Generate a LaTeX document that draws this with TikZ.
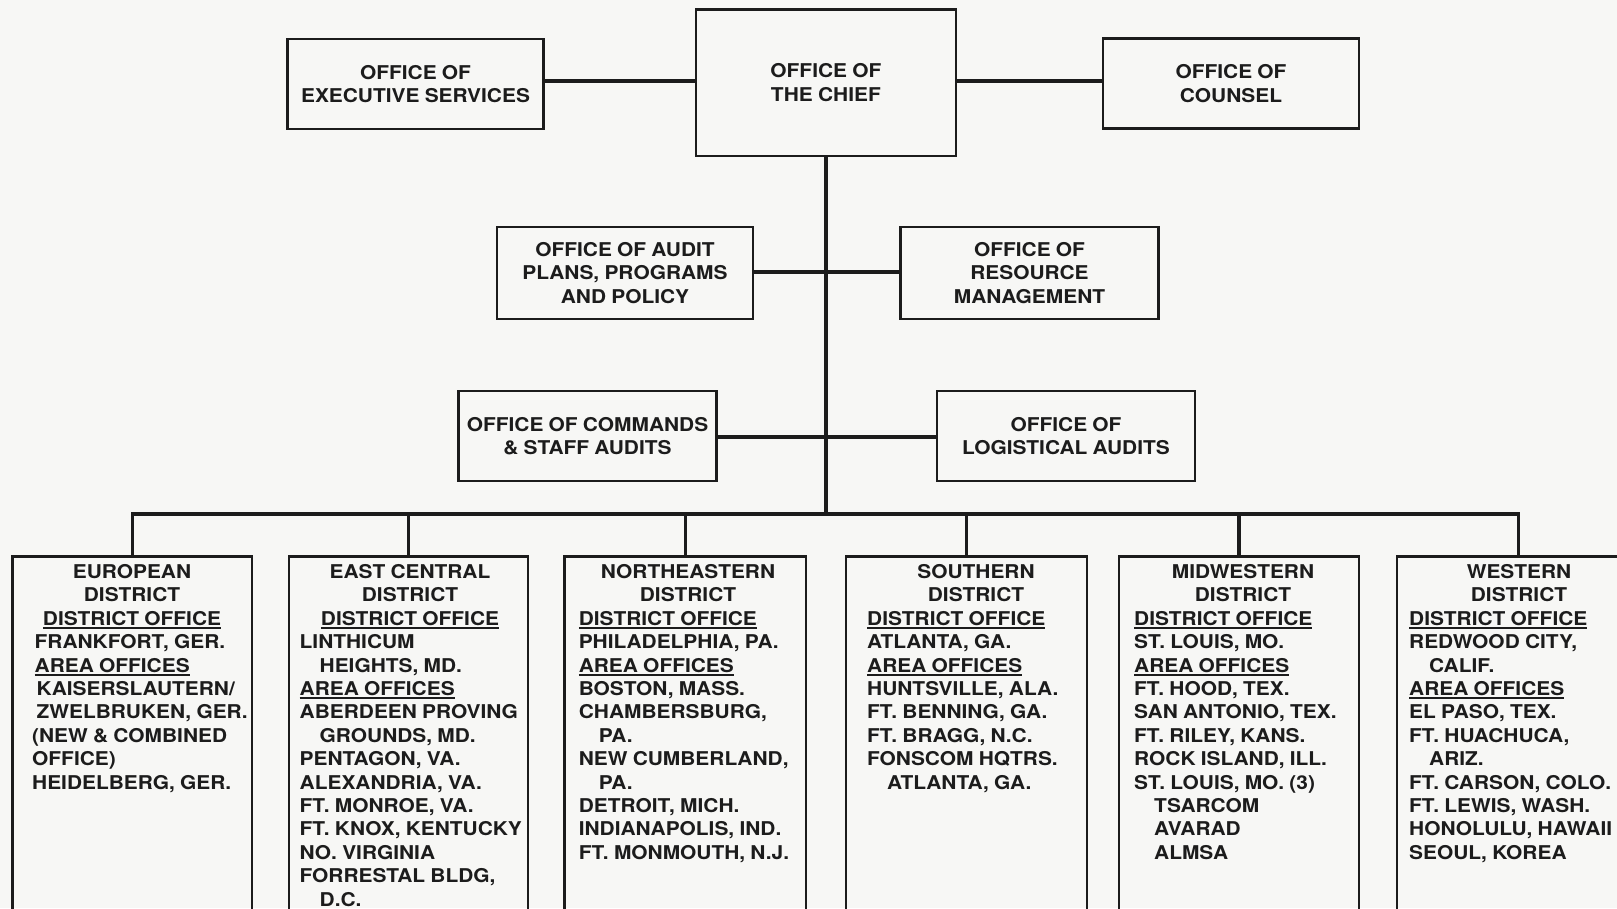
\documentclass[tikz,border=0pt]{standalone}
\usepackage{fontspec}
\setmainfont{TeX Gyre Heros}[FakeStretch=1.1,WordSpace=0.9]
\definecolor{ink}{RGB}{28,28,28}
\definecolor{paper}{RGB}{247,247,245}
\newcommand\chartfont{\fontsize{19}{23.4}\selectfont\bfseries}
\newcommand\undl[1]{\setbox0\hbox{#1}\rlap{\rule[-3.6pt]{\wd0}{1.7pt}}\box0}
\begin{document}
\begin{tikzpicture}[x=1pt,y=-1pt,
  box/.style={draw=ink, line width=2.4pt, rectangle, inner sep=0pt, align=center, font=\chartfont, text=ink},
  dbox/.style={draw=ink, line width=2.4pt, rectangle, inner sep=0pt},
  link/.style={draw=ink, line width=3.3pt},
  title/.style={inner sep=0pt, align=center, font=\chartfont, text=ink, anchor=base},
  body/.style={inner sep=0pt, align=left, font=\chartfont, text=ink, anchor=base west}]
\fill[paper] (0,0) rectangle (1617,908);
\useasboundingbox (0,0) rectangle (1617,908);
\clip (0,0) rectangle (1617,908);
% top row
\node[box, minimum width=256pt, minimum height=90pt] (exec) at (415.5,84) {OFFICE OF\\EXECUTIVE SERVICES};
\node[box, minimum width=260pt, minimum height=146.5pt] (chief) at (825.9,82.7) {OFFICE OF\\THE CHIEF};
\node[box, minimum width=256pt, minimum height=90pt] (counsel) at (1231,83.5) {OFFICE OF\\COUNSEL};
% middle rows
\node[box, minimum width=256pt, minimum height=92pt] (audit) at (625,273) {OFFICE OF AUDIT\\PLANS, PROGRAMS\\AND POLICY};
\node[box, minimum width=258pt, minimum height=92pt] (resource) at (1029.5,273) {OFFICE OF\\RESOURCE\\MANAGEMENT};
\node[box, minimum width=258pt, minimum height=90pt] (commands) at (587.5,436) {OFFICE OF COMMANDS\\\& STAFF AUDITS};
\node[box, minimum width=258pt, minimum height=90pt] (logistical) at (1066,436) {OFFICE OF\\LOGISTICAL AUDITS};
% district boxes
\node[dbox, minimum width=239.5pt, minimum height=373.5pt] (eu) at (132.25,743.25) {};
\node[dbox, minimum width=239pt, minimum height=373.5pt] (ec) at (408.5,743.25) {};
\node[dbox, minimum width=241.5pt, minimum height=373.5pt] (ne) at (685.25,743.25) {};
\node[dbox, minimum width=241pt, minimum height=373.5pt] (so) at (966.5,743.25) {};
\node[dbox, minimum width=240pt, minimum height=373.5pt] (mw) at (1239,743.25) {};
\node[dbox, minimum width=243pt, minimum height=373.5pt] (we) at (1518.5,743.25) {};
% connectors
\draw[link] (exec.east |- 0,81) -- (chief.west |- 0,81);
\draw[link] (chief.east |- 0,81) -- (counsel.west |- 0,81);
\coordinate (busc) at (825.9,514);
\draw[link] (chief.south) -- (busc);
\draw[link] (audit.east |- 0,272) -- (resource.west |- 0,272);
\draw[link] (commands.east |- 0,437) -- (logistical.west |- 0,437);
\draw[link, line join=miter] (eu.north) -- (eu.north |- busc) -- (we.north |- busc) -- (we.north);
\draw[link] (ec.north |- busc) -- (ec.north);
\draw[link] (ne.north |- busc) -- (ne.north);
\draw[link] (so.north |- busc) -- (so.north);
\draw[link] (mw.north |- busc) -- (mw.north);
% district texts (base anchor = baseline of the last line)
\node[title] (eut) at (132,625.3) {EUROPEAN\\DISTRICT\\\undl{DISTRICT OFFICE}};
\node[body] (eub) at (32,789.1) {\hspace*{2.5pt}FRANKFORT, GER.\\\hspace*{2.5pt}\undl{AREA OFFICES}\\\hspace*{4.5pt}KAISERSLAUTERN/\\\hspace*{4.5pt}ZWELBRUKEN, GER.\\(NEW \& COMBINED\\OFFICE)\\HEIDELBERG, GER.};
\node[title] (ect) at (410,625.3) {EAST CENTRAL\\DISTRICT\\\undl{DISTRICT OFFICE}};
\node[body] (ecb) at (299.5,906.1) {LINTHICUM\\\hspace*{20pt}HEIGHTS, MD.\\\undl{AREA OFFICES}\\ABERDEEN PROVING\\\hspace*{20pt}GROUNDS, MD.\\PENTAGON, VA.\\ALEXANDRIA, VA.\\FT. MONROE, VA.\\FT. KNOX, KENTUCKY\\NO. VIRGINIA\\FORRESTAL BLDG,\\\hspace*{20pt}D.C.};
\node[title] (net) at (688,601.9) {NORTHEASTERN\\DISTRICT};
\node[body] (neb) at (578.6,859.3) {\undl{DISTRICT OFFICE}\\PHILADELPHIA, PA.\\\undl{AREA OFFICES}\\BOSTON, MASS.\\CHAMBERSBURG,\\\hspace*{20pt}PA.\\NEW CUMBERLAND,\\\hspace*{20pt}PA.\\DETROIT, MICH.\\INDIANAPOLIS, IND.\\FT. MONMOUTH, N.J.};
\node[title] (sot) at (976,601.9) {SOUTHERN\\DISTRICT};
\node[body] (sob) at (867,789.1) {\undl{DISTRICT OFFICE}\\ATLANTA, GA.\\\undl{AREA OFFICES}\\HUNTSVILLE, ALA.\\FT. BENNING, GA.\\FT. BRAGG, N.C.\\FONSCOM HQTRS.\\\hspace*{20pt}ATLANTA, GA.};
\node[title] (mwt) at (1243,601.9) {MIDWESTERN\\DISTRICT};
\node[body] (mwb) at (1134,859.3) {\undl{DISTRICT OFFICE}\\ST. LOUIS, MO.\\\undl{AREA OFFICES}\\FT. HOOD, TEX.\\SAN ANTONIO, TEX.\\FT. RILEY, KANS.\\ROCK ISLAND, ILL.\\ST. LOUIS, MO. (3)\\\hspace*{20pt}TSARCOM\\\hspace*{20pt}AVARAD\\\hspace*{20pt}ALMSA};
\node[title] (wet) at (1519,601.9) {WESTERN\\DISTRICT};
\node[body] (web) at (1409,859.3) {\undl{DISTRICT OFFICE}\\REDWOOD CITY,\\\hspace*{20pt}CALIF.\\\undl{AREA OFFICES}\\EL PASO, TEX.\\FT. HUACHUCA,\\\hspace*{20pt}ARIZ.\\FT. CARSON, COLO.\\FT. LEWIS, WASH.\\HONOLULU, HAWAII\\SEOUL, KOREA};
\end{tikzpicture}
\end{document}
